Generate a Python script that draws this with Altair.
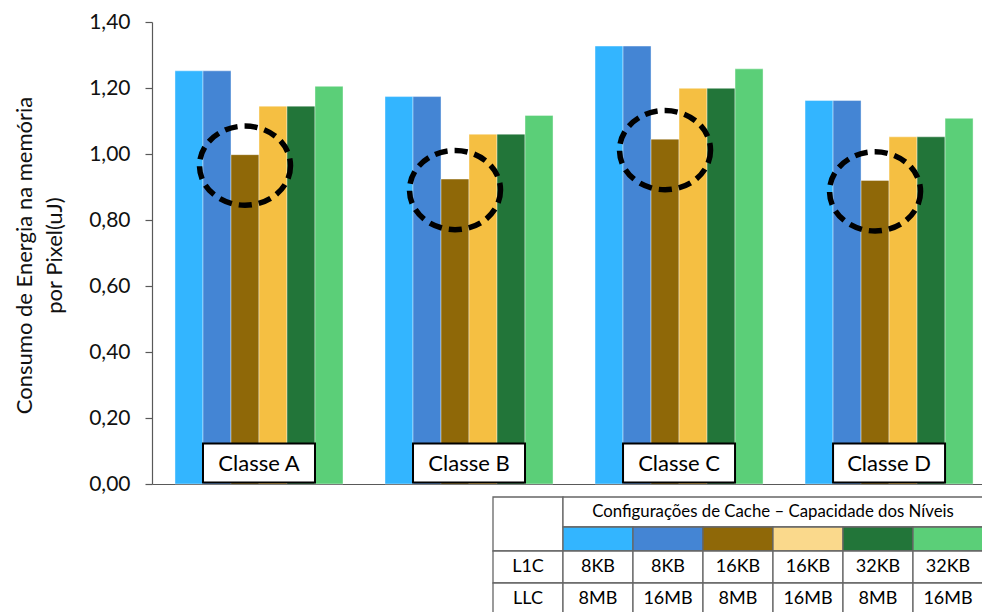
import altair as alt
import pandas as pd

# ---- data -------------------------------------------------------------
classes = ["Classe A", "Classe B", "Classe C", "Classe D"]
l1c = ["8KB", "8KB", "16KB", "16KB", "32KB", "32KB"]
llc = ["8MB", "16MB", "8MB", "16MB", "8MB", "16MB"]
bar_colors = ["#33B5FF", "#4485D4", "#8F6808", "#F5BF42", "#227539", "#5BCF78"]
swatch_colors = ["#33B5FF", "#4485D4", "#8F6808", "#FAD98C", "#227539", "#5BCF78"]

# memory energy per pixel (uJ) for each cache configuration, by class
e_8k_8m = [1.252, 1.174, 1.327, 1.162]
e_8k_16m = [1.252, 1.174, 1.327, 1.162]
e_16k_8m = [0.998, 0.924, 1.045, 0.920]
e_16k_16m = [1.145, 1.060, 1.199, 1.052]
e_32k_8m = [1.145, 1.060, 1.199, 1.052]
e_32k_16m = [1.205, 1.117, 1.258, 1.108]

header = "Configurações de Cache – Capacidade dos Níveis"
y_title = ["Consumo de Energia na memória", "por Pixel(uJ)"]
y_ticks = [0, 0.2, 0.4, 0.6, 0.8, 1.0, 1.2, 1.4]

series = [e_8k_8m, e_8k_16m, e_16k_8m, e_16k_16m, e_32k_8m, e_32k_16m]
configs = [f"{a}/{b}" for a, b in zip(l1c, llc)]
best = configs[2]  # 16KB L1C / 8MB LLC: lowest energy in every class

rows = []
for cfg, col, vals in zip(configs, bar_colors, series):
    for cls, v in zip(classes, vals):
        rows.append({"classe": cls, "config": cfg, "cor": col, "energia": v})
bars_df = pd.DataFrame(rows)
best_df = bars_df[bars_df["config"] == best]
labels_df = pd.DataFrame({"classe": classes})

# ---- layout ------------------------------------------------------------
FONT = "Lato"
W, H = 830, 462

x_enc = alt.X(
    "classe:N",
    sort=classes,
    scale=alt.Scale(paddingInner=0.2, paddingOuter=0.076, align=0.72),
    axis=alt.Axis(labels=False, ticks=False, title=None, domainColor="#595959",
                  domainWidth=1.2),
)
xoff_enc = alt.XOffset("config:N", sort=configs,
                       scale=alt.Scale(paddingInner=0, paddingOuter=0))
y_enc = alt.Y(
    "energia:Q",
    scale=alt.Scale(domain=[0, 1.4], nice=False, zero=True),
    axis=alt.Axis(
        values=y_ticks,
        labelExpr="replace(format(datum.value, '.2f'), '.', ',')",
        labelFont=FONT, labelFontSize=21, labelColor="#111111", labelPadding=15,
        tickColor="#595959", tickSize=7, tickWidth=1.2,
        domainColor="#595959", domainWidth=1.2, grid=False,
        title=y_title, titleFont=FONT, titleFontSize=22, titleFontWeight="normal",
        titleColor="#111111", titleLineHeight=30, titleAngle=270,
        titleAlign="center", titleBaseline="alphabetic",
        titleX=-121, titleY=233,
    ),
)

bars = alt.Chart(bars_df).mark_bar(
    stroke="white", strokeWidth=1, strokeOpacity=0.4
).encode(
    x=x_enc, xOffset=xoff_enc, y=y_enc,
    color=alt.Color("cor:N", scale=None),
)

# dashed ellipses highlighting the lowest bar of each class
k = 0.87
c = 0.5523
ellipse_path = (
    f"M1,0 C1,{c*k:.4f} {c},{k} 0,{k} "
    f"C{-c},{k} -1,{c*k:.4f} -1,0 "
    f"C-1,{-c*k:.4f} {-c},{-k} 0,{-k} "
    f"C{c},{-k} 1,{-c*k:.4f} 1,0 Z"
)
rings = alt.Chart(best_df).mark_point(
    shape=ellipse_path, size=8280, filled=False, stroke="black",
    strokeWidth=5.5, strokeDash=[13, 7], opacity=1,
).encode(
    x=alt.X("classe:N", sort=classes), xOffset=alt.XOffset("config:N", sort=configs),
    y="energia:Q", yOffset=alt.value(11),
)

# class name boxes
box_path = "M-1,-0.348 L1,-0.348 L1,0.348 L-1,0.348 Z"
boxes = alt.Chart(labels_df).mark_point(
    shape=box_path, size=112 * 112, filled=True, fill="white", stroke="black",
    strokeWidth=2, opacity=1, fillOpacity=1,
).encode(x=alt.X("classe:N", sort=classes), y=alt.value(H - 21))
names = alt.Chart(labels_df).mark_text(
    font=FONT, fontSize=22, color="black", baseline="middle", align="center"
).encode(x=alt.X("classe:N", sort=classes), y=alt.value(H - 20),
         text="classe:N")

main = alt.layer(bars, rings, boxes, names)

# ---- configuration table below the plot --------------------------------
row_heights = [30, 24, 32, 32]
edges = [0]
for h in row_heights:
    edges.append(edges[-1] + h)

cells = [{"c0": 0, "c1": 1, "r0": edges[0], "r1": edges[2], "fill": "white", "txt": ""},
         {"c0": 1, "c1": 7, "r0": edges[0], "r1": edges[1], "fill": "white", "txt": header}]
for i, col in enumerate(swatch_colors):
    cells.append({"c0": i + 1, "c1": i + 2, "r0": edges[1], "r1": edges[2],
                  "fill": col, "txt": ""})
for r, (name, vals) in enumerate([("L1C", l1c), ("LLC", llc)]):
    r0, r1 = edges[2 + r], edges[3 + r]
    cells.append({"c0": 0, "c1": 1, "r0": r0, "r1": r1, "fill": "white", "txt": name})
    for i, v in enumerate(vals):
        cells.append({"c0": i + 1, "c1": i + 2, "r0": r0, "r1": r1,
                      "fill": "white", "txt": v})
cells_df = pd.DataFrame(cells)
cells_df["cx"] = (cells_df["c0"] + cells_df["c1"]) / 2
cells_df["cy"] = (cells_df["r0"] + cells_df["r1"]) / 2
cells_df["fs"] = [16.8 if t == header else 18 for t in cells_df["txt"]]

tx = alt.Scale(domain=[0, 7], range=[341, 831], nice=False, zero=False)
ty = alt.Scale(domain=[0, edges[-1]], range=[475, 475 + edges[-1]], nice=False,
               zero=False)

table_cells = alt.Chart(cells_df).mark_rect(stroke="#666666", strokeWidth=1.3).encode(
    x=alt.X("c0:Q", scale=tx, axis=None), x2="c1:Q",
    y=alt.Y("r0:Q", scale=ty, axis=None), y2="r1:Q",
    color=alt.Color("fill:N", scale=None),
)
table_text = alt.Chart(cells_df[cells_df["txt"] != ""]).mark_text(
    font=FONT, color="black", baseline="middle", align="center"
).encode(
    x=alt.X("cx:Q", scale=tx, axis=None),
    y=alt.Y("cy:Q", scale=ty, axis=None),
    text="txt:N",
    size=alt.Size("fs:Q", scale=None),
)
table = alt.layer(table_cells, table_text)

chart = alt.layer(main, table).resolve_scale(
    x="independent", y="independent", color="independent"
).properties(
    width=W, height=H,
    autosize=alt.AutoSizeParams(type="none"),
    padding={"left": 152, "top": 22, "right": 0, "bottom": 128},
    background="white",
).configure_view(stroke=None)

chart.save("out.html", embed_options={"renderer": "svg", "actions": False})
